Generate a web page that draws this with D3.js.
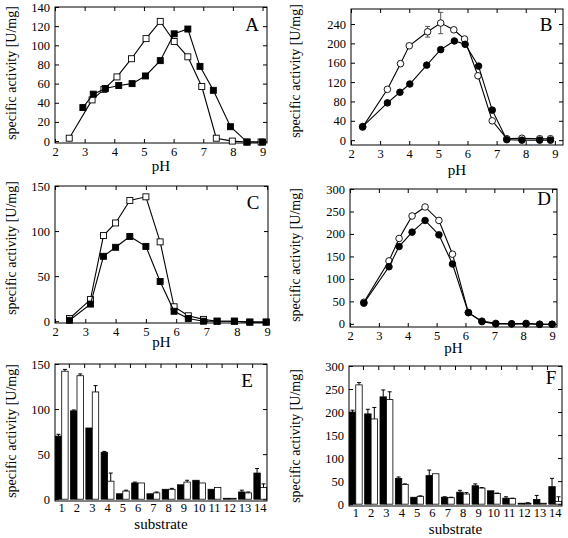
<!DOCTYPE html>
<html><head><meta charset="utf-8">
<script src="https://cdn.jsdelivr.net/npm/d3@7"></script>
<style>
html,body{margin:0;padding:0;background:#fff;}
svg text{font-family:"Liberation Serif","Times New Roman",Times,serif !important;fill:#000;}
</style></head>
<body><svg id="c" width="568" height="538"></svg>
<script>
// ---- Panel A (squares) ----
const A_open_pH  = [2.48,3.25,3.65,4.09,4.58,5.07,5.55,6.02,6.48,6.95,7.44,7.98,8.47,8.95];
const A_open_val = [3,43,54,67,86,107,125,104,88,57,3,0,-1,-1];
const A_fill_pH  = [2.94,3.29,3.70,4.15,4.60,5.05,5.55,6.02,6.48,6.89,7.34,7.92,8.48,9.0];
const A_fill_val = [35,49,55,58,60,68,84,112,117,78,53,15,-1,-1];
// ---- Panel B (circles) ----
const B_open_pH  = [2.40,3.25,3.70,4.0,4.63,5.08,5.53,5.90,6.36,6.85,7.35,7.87,8.48,8.85];
const B_open_val = [27,105,158,195,224,242,228,209,133,40,3,4,3,3];
const B_open_err = [0,0,0,0,11,22,0,0,0,0,0,0,0,0];
const B_fill_pH  = [2.40,3.25,3.68,4.02,4.60,5.08,5.55,5.92,6.38,6.85,7.35,7.87,8.48,8.85];
const B_fill_val = [28,77,99,116,155,187,205,198,153,62,1,0,0,0];
// ---- Panel C (squares) ----
const C_open_pH  = [2.48,3.17,3.60,4.0,4.47,5.0,5.47,5.93,6.40,6.90,7.35,7.92,8.43,8.97];
const C_open_val = [3,24,95,109,134,138,88,16,6,2,0,0,-1,-1];
const C_fill_pH  = [2.48,3.17,3.60,4.0,4.47,5.0,5.47,5.93,6.40,6.90,7.35,7.92,8.43,8.97];
const C_fill_val = [1,19,72,82,94,83,44,11,3,0,0,0,-1,-1];
// ---- Panel D (circles) ----
const D_open_pH  = [2.48,3.35,3.70,4.15,4.60,5.08,5.55,6.10,6.57,7.05,7.60,8.10,8.57,9.0];
const D_open_val = [48,140,190,240,260,230,155,25,6,1,0,1,-1,-1];
const D_fill_pH  = [2.48,3.35,3.70,4.15,4.60,5.08,5.55,6.10,6.57,7.05,7.60,8.10,8.57,9.0];
const D_fill_val = [46,127,172,204,230,198,133,25,5,0,0,0,-1,-1];
// ---- Panels E/F (bars) ----
const substrates = ["1","2","3","4","5","6","7","8","9","10","11","12","13","14"];
const E_black     = [70,98,79,52,6,18,6,11,16,21,11,1,8,29];
const E_black_err = [2,1,0,1,0,1,0,0,0,0,0,0,2,5];
const E_white     = [142,137,119,20,9,18,7,11,19,18,13,1,7,13];
const E_white_err = [2,2,7,9,1,0,1,1,2,0,0,0,1,4];
const F_black     = [200,196,233,56,15,62,15,26,40,29,13,2,10,38];
const F_black_err = [4,10,15,3,0,12,1,4,4,0,3,0,9,18];
const F_white     = [259,185,227,43,17,66,14,22,35,23,12,2,2,6];
const F_white_err = [5,25,17,1,1,0,1,3,1,1,1,1,0,10];

const SERIF = "'Liberation Serif','Times New Roman',Times,serif";
const svg = d3.select("#c").attr("font-family",SERIF);
const FONT = 12.5;

function frame(g, x0, y0, x1, y1){
  g.append("rect").attr("x",x0).attr("y",y0).attr("width",x1-x0).attr("height",y1-y0)
   .attr("fill","none").attr("stroke","#000").attr("stroke-width",1);
}
function ylab(x, y){
  svg.append("text").attr("transform",`translate(${x},${y}) rotate(-90)`)
    .attr("text-anchor","middle").attr("dominant-baseline","middle")
    .style("font-size","14px").text("specific activity [U/mg]");
}
function letter(x,y,t){
  svg.append("text").attr("x",x).attr("y",y).attr("text-anchor","middle")
    .attr("dominant-baseline","middle").style("font-size","19px").text(t);
}
function styleAxis(g){
  g.attr("font-family",SERIF).attr("font-size",FONT);
  g.select(".domain").remove();
  g.selectAll("line").attr("stroke","#000");
  g.selectAll("text").style("font-size",FONT+"px");
}

function linePanel(o){
  const x = d3.scaleLinear().domain(o.xd).range([o.x0,o.x1]);
  const y = d3.scaleLinear().domain(o.yd).range([o.y1,o.y0]);
  const g = svg.append("g");
  frame(g,o.x0,o.y0,o.x1,o.y1);
  const xt = d3.range(2,10);
  g.append("g").attr("transform",`translate(0,${o.y1})`)
    .call(d3.axisBottom(x).tickValues(xt).tickFormat(d3.format("d")).tickSize(-4).tickPadding(4)).call(styleAxis);
  g.append("g").attr("transform",`translate(0,${o.y0})`)
    .call(d3.axisTop(x).tickValues(xt).tickFormat("").tickSize(-4)).call(styleAxis);
  g.append("g").attr("transform",`translate(${o.x0},0)`)
    .call(d3.axisLeft(y).tickValues(o.yt).tickFormat(d3.format("d")).tickSize(-4).tickPadding(5)).call(styleAxis);
  g.append("g").attr("transform",`translate(${o.x1},0)`)
    .call(d3.axisRight(y).tickValues(o.yt).tickFormat("").tickSize(-4)).call(styleAxis);
  svg.append("text").attr("x",(o.x0+o.x1)/2).attr("y",o.pHy).attr("text-anchor","middle")
    .attr("dominant-baseline","middle").style("font-size","15px").text("pH");
  const line = d3.line().x(d=>x(d[0])).y(d=>y(d[1]));
  o.series.forEach(s=>{
    const pts = s.pH.map((p,i)=>[p,s.val[i],s.err?s.err[i]:0]);
    g.append("path").datum(pts).attr("d",line).attr("fill","none").attr("stroke","#000").attr("stroke-width",1.1);
    pts.filter(d=>d[2]>0).forEach(d=>{
      g.append("line").attr("x1",x(d[0])).attr("x2",x(d[0])).attr("y1",y(d[1]-d[2])).attr("y2",y(d[1]+d[2]))
        .attr("stroke","#555").attr("stroke-width",1);
      [d[1]-d[2],d[1]+d[2]].forEach(v=>g.append("line").attr("x1",x(d[0])-2.5).attr("x2",x(d[0])+2.5)
        .attr("y1",y(v)).attr("y2",y(v)).attr("stroke","#555"));
    });
    if(s.shape==="square"){
      g.selectAll(null).data(pts).enter().append("rect")
        .attr("x",d=>x(d[0])-3).attr("y",d=>y(d[1])-3).attr("width",6).attr("height",6)
        .attr("fill",s.fill).attr("stroke","#000").attr("stroke-width",0.9);
    } else {
      g.selectAll(null).data(pts).enter().append("circle")
        .attr("cx",d=>x(d[0])).attr("cy",d=>y(d[1])).attr("r",3.3)
        .attr("fill",s.fill).attr("stroke","#000").attr("stroke-width",0.9);
    }
  });
}

function barPanel(o){
  const x = d3.scaleBand().domain(substrates).range([o.x0,o.x1]).paddingInner(0.16).paddingOuter(0.02);
  const xs = d3.scaleBand().domain(["b","w"]).range([0,x.bandwidth()]);
  const y = d3.scaleLinear().domain(o.yd).range([o.y1,o.y0]);
  const g = svg.append("g");
  const bounds = substrates.slice(1).map(s=>x(s)-x.step()*x.paddingInner()/2);
  bounds.forEach(b=>{
    g.append("line").attr("x1",b).attr("x2",b).attr("y1",o.y0).attr("y2",o.y0+4).attr("stroke","#000");
  });
  g.append("g").attr("transform",`translate(0,${o.y1})`)
    .call(d3.axisBottom(x).tickSize(0).tickPadding(o.labPad)).call(styleAxis);
  g.append("g").attr("transform",`translate(${o.x0},0)`)
    .call(d3.axisLeft(y).tickValues(o.yt).tickFormat(d3.format("d")).tickSize(-4).tickPadding(5)).call(styleAxis);
  g.append("g").attr("transform",`translate(${o.x1},0)`)
    .call(d3.axisRight(y).tickValues(o.yt).tickFormat("").tickSize(-4)).call(styleAxis);
  const sets = [["b",o.black,o.blackErr,"#000"],["w",o.white,o.whiteErr,"#fff"]];
  sets.forEach(([k,vals,errs,fill])=>{
    substrates.forEach((s,i)=>{
      const bx = x(s)+xs(k), bw = xs.bandwidth();
      const v = vals[i];
      g.append("rect").attr("x",bx).attr("y",y(Math.max(v,0))).attr("width",bw)
        .attr("height",Math.max(y(0)-y(Math.max(v,0)),0.8)).attr("fill",fill).attr("stroke","#000").attr("stroke-width",0.8);
      if(errs[i]>0){
        const cx = bx+bw/2;
        g.append("line").attr("x1",cx).attr("x2",cx).attr("y1",y(v)).attr("y2",y(v+errs[i])).attr("stroke","#000");
        g.append("line").attr("x1",cx-2).attr("x2",cx+2).attr("y1",y(v+errs[i])).attr("y2",y(v+errs[i])).attr("stroke","#000");
      }
    });
  });
  frame(g,o.x0,o.y0,o.x1,o.y1);
  svg.append("text").attr("x",(o.x0+o.x1)/2).attr("y",o.subY).attr("text-anchor","middle")
    .attr("dominant-baseline","middle").style("font-size","15px").text("substrate");
}

linePanel({x0:55,x1:267,y0:7,y1:143,xd:[2,9.15],yd:[-2,140],yt:d3.range(0,141,20),pHy:168,
  series:[{pH:A_open_pH,val:A_open_val,shape:"square",fill:"#fff"},
          {pH:A_fill_pH,val:A_fill_val,shape:"square",fill:"#000"}]});
linePanel({x0:351,x1:563,y0:9,y1:145,xd:[2,9.28],yd:[-10,271],yt:d3.range(0,241,40),pHy:172,
  series:[{pH:B_open_pH,val:B_open_val,err:B_open_err,shape:"circle",fill:"#fff"},
          {pH:B_fill_pH,val:B_fill_val,shape:"circle",fill:"#000"}]});
linePanel({x0:55,x1:268,y0:186,y1:323,xd:[2,9.03],yd:[-2,150],yt:[0,50,100,150],pHy:344,
  series:[{pH:C_open_pH,val:C_open_val,shape:"square",fill:"#fff"},
          {pH:C_fill_pH,val:C_fill_val,shape:"square",fill:"#000"}]});
linePanel({x0:350,x1:557,y0:189,y1:327,xd:[2,9.17],yd:[-7,300],yt:d3.range(0,301,50),pHy:350,
  series:[{pH:D_open_pH,val:D_open_val,shape:"circle",fill:"#fff"},
          {pH:D_fill_pH,val:D_fill_val,shape:"circle",fill:"#000"}]});
barPanel({x0:55,x1:267,y0:364,y1:501,yd:[-2,150],yt:[0,50,100,150],labPad:2,subY:526,
  black:E_black,blackErr:E_black_err,white:E_white,whiteErr:E_white_err});
barPanel({x0:349,x1:562,y0:366,y1:506,yd:[-4,300],yt:d3.range(0,301,50),labPad:2,subY:531,
  black:F_black,blackErr:F_black_err,white:F_white,whiteErr:F_white_err});

ylab(13,73); ylab(297,71); ylab(13,248); ylab(297,255); ylab(13,431); ylab(297,436);
letter(252,27,"A"); letter(546,27,"B"); letter(253,205,"C"); letter(544,201,"D"); letter(247,383,"E"); letter(551,380,"F");
</script></body></html>
